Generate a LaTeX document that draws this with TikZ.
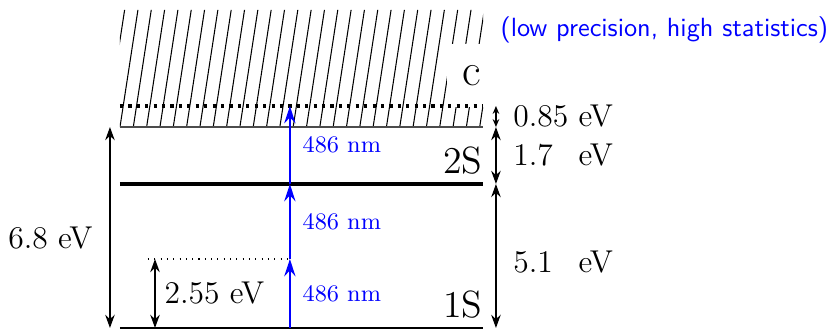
\documentclass[tikz,border=0pt]{standalone}
\usepackage{amsmath}
\usepackage{tikz}
\usetikzlibrary{arrows.meta,positioning,calc}

\begin{document}
\begin{tikzpicture}[>={Stealth[length=5pt,width=3.6pt]},
    photon/.style={-{Stealth[length=6.5pt,width=4.2pt]}, blue, line width=1pt},
    gap/.style={<->, semithick},
    nmlabel/.style={right, blue, font=\small},
    evlabel/.style={font=\large},
    levlabel/.style={anchor=south east, inner xsep=0pt, font=\Large}]
    \useasboundingbox (-1.603,-0.027) rectangle (9.526,4.382);

    % Level end points
    \coordinate (s1L) at (0,0);
    \coordinate (s1R) at (4.85,0);
    \coordinate (s2L) at (0,1.924);
    \coordinate (s2R) at (4.85,1.924);
    \coordinate (cL) at (0,2.685);
    \coordinate (cR) at (4.85,2.685);
    \coordinate (ionL) at (0,2.966);
    \coordinate (ionR) at (4.85,2.966);
    \coordinate (virt) at (0.374,0.922);

    % Continuum (hatched)
    \begin{scope}
        \clip (cL) rectangle (4.85,4.25);
        \foreach \i in {-2,...,28}
            \draw[thin] (\i*0.178,2.685) -- ++(0.24,1.565);
    \end{scope}
    \node[fill=white, anchor=base, inner xsep=6pt, minimum height=24pt, font=\LARGE] (c) at (4.70,3.246) {c};
    \node[anchor=west, blue, font=\sffamily] (note) at (4.96,3.98) {(low precision, high statistics)};

    % Levels
    \draw[line width=0.9pt] (s1L) -- (s1R);
    \draw[line width=1.8pt] (s2L) -- (s2R);
    \draw[thick, black!70] (cL) -- (cR);
    \draw[very thick, dotted] (ionL) -- (ionR);
    \draw[thin, dotted] (virt) -- (virt -| 2.27,0);

    \node[levlabel] (l1S) at (s1R) {1S};
    \node[levlabel] (l2S) at (s2R) {2S};

    % Photons
    \coordinate (p0) at (2.27,0);
    \coordinate (p1) at (2.27,0.922);
    \coordinate (p2) at (2.27,1.924);
    \coordinate (p3) at (2.27,2.966);
    \draw[photon] (p0) -- node[nmlabel, xshift=1pt] {486 nm} (p1);
    \draw[photon] (p1) -- node[nmlabel, xshift=1pt] {486 nm} (p2);
    \draw[photon] (p2) -- node[nmlabel, xshift=1pt] {486 nm} (p3);

    % Energy gaps
    \coordinate (a0) at (-0.134,0);
    \coordinate (a1) at (-0.134,2.685);
    \draw[gap] (a0) -- node[evlabel, left, pos=0.45, xshift=-3pt] {6.8 eV} (a1);

    \coordinate (b0) at (0.468,0);
    \coordinate (b1) at (0.468,0.922);
    \draw[gap] (b0) -- node[evlabel, right] {2.55 eV} (b1);

    \coordinate (r0) at (5.023,0);
    \coordinate (r1) at (5.023,1.924);
    \coordinate (r2) at (5.023,2.685);
    \coordinate (r3) at (5.023,2.966);
    \draw[gap] (r0) -- node[evlabel, right, pos=0.46, xshift=3pt] {5.1\phantom{5} eV} (r1);
    \draw[gap] (r1) -- node[evlabel, right, xshift=3pt] {1.7\phantom{5} eV} (r2);
    \draw[<->, >={Stealth[length=3pt,width=2.5pt]}, semithick] (r2) -- node[evlabel, right, xshift=3pt] {0.85 eV} (r3);
\end{tikzpicture}
\end{document}
